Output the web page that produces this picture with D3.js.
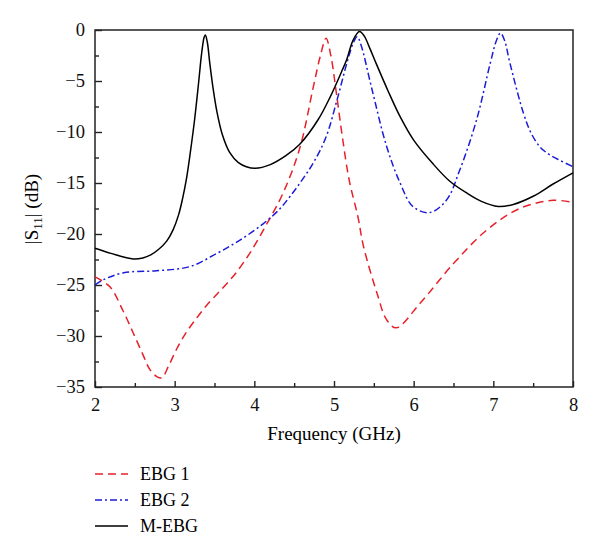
<!DOCTYPE html>
<html lang="en">
<head>
<meta charset="UTF-8">
<script src="https://cdn.jsdelivr.net/npm/d3@7"></script>
<title>S11</title>
<style>
    body { margin: 0; background: white; }
    svg { display: block; font-family: "Liberation Serif", "DejaVu Serif", serif; }
    .axis path, .axis line { stroke: #222; stroke-width: 1.4px; }
</style>
</head>
<body>
<script>
// EBG 1 (red dashed)
const ebg1_f  = [2.0, 2.19, 2.35, 2.48, 2.6, 2.69, 2.78, 2.84, 2.92, 3.03, 3.15, 3.28, 3.4, 3.53, 3.65, 3.78, 3.95, 4.15, 4.36, 4.57, 4.74, 4.83, 4.90, 4.96, 5.03, 5.1, 5.19, 5.3, 5.37, 5.54, 5.66, 5.78, 6.08, 6.5, 6.92, 7.33, 7.75, 8.0];
const ebg1_db = [-24.2, -25.2, -27.5, -29.7, -31.8, -33.3, -34.0, -34.1, -33.0, -31.2, -29.6, -28.2, -27.0, -25.9, -24.9, -23.7, -21.8, -19.1, -16.0, -11.6, -5.6, -2.5, -0.8, -2.5, -6.2, -10.2, -14.7, -18.3, -21.2, -25.8, -28.4, -29.2, -26.8, -22.9, -19.6, -17.5, -16.7, -16.9];

// EBG 2 (blue dash-dot)
const ebg2_f  = [2.0, 2.1, 2.36, 2.77, 3.19, 3.53, 3.82, 4.11, 4.3, 4.45, 4.6, 4.75, 4.9, 5.04, 5.17, 5.24, 5.29, 5.34, 5.47, 5.66, 5.83, 5.99, 6.2, 6.41, 6.58, 6.79, 6.96, 7.04, 7.09, 7.14, 7.21, 7.38, 7.48, 7.59, 7.7, 7.84, 8.0];
const ebg2_db = [-25.0, -24.5, -23.8, -23.6, -23.2, -21.9, -20.6, -19.0, -17.7, -16.3, -14.7, -12.9, -10.5, -6.8, -3.0, -1.3, -0.65, -1.5, -5.6, -11.4, -15.0, -17.3, -17.9, -16.7, -13.7, -8.8, -3.3, -1.0, -0.3, -1.0, -3.3, -8.2, -10.2, -11.5, -12.2, -12.8, -13.4];

// M-EBG (black solid)
const mebg_f  = [2.0, 2.2, 2.48, 2.6, 2.7, 2.8, 2.9, 2.98, 3.05, 3.1, 3.15, 3.2, 3.25, 3.3, 3.34, 3.37, 3.385, 3.41, 3.44, 3.48, 3.53, 3.6, 3.69, 3.8, 3.9, 4.01, 4.2, 4.4, 4.57, 4.8, 4.95, 5.1, 5.16, 5.24, 5.32, 5.38, 5.45, 5.53, 5.68, 5.83, 6.0, 6.24, 6.45, 6.67, 6.85, 7.06, 7.25, 7.5, 7.75, 8.0];
const mebg_db = [-21.4, -21.9, -22.45, -22.35, -22.05, -21.5, -20.7, -19.6, -18.1, -16.5, -14.5, -11.8, -8.8, -5.2, -2.2, -0.7, -0.5, -1.2, -3.2, -5.6, -8.0, -10.3, -12.0, -13.0, -13.4, -13.56, -13.2, -12.3, -11.2, -8.8, -6.6, -4.0, -2.9, -1.0, -0.15, -0.6, -1.8, -3.3, -6.0, -8.5, -10.8, -13.1, -14.8, -16.0, -16.8, -17.3, -17.1, -16.3, -15.1, -14.0];

const x_ticks = [2, 3, 4, 5, 6, 7, 8];
const y_ticks = [0, -5, -10, -15, -20, -25, -30, -35];
const series_names = ["EBG 1", "EBG 2", "M-EBG"];

const W = 600, H = 557;
const FONT = "'Liberation Serif', 'DejaVu Serif', serif";
const svg = d3.select("body").append("svg").attr("width", W).attr("height", H);

const x = d3.scaleLinear().domain([2, 8]).range([95, 573]);
const y = d3.scaleLinear().domain([-35, 0]).range([387, 30]);

//minor ticks
const x_minor = d3.range(2.5, 8, 1);
const y_minor = d3.range(-32.5, 0, 5);

function styleAxis(g) {
    g.select(".domain").remove();
    g.attr("font-family", FONT).attr("font-size", 18.5);
    g.selectAll("text").attr("fill", "#111");
}

svg.append("g").attr("class", "axis")
    .attr("transform", "translate(0,387)")
    .call(d3.axisBottom(x).tickValues(x_minor).tickSize(-4).tickFormat(""))
    .call(styleAxis);
svg.append("g").attr("class", "axis")
    .attr("transform", "translate(95,0)")
    .call(d3.axisLeft(y).tickValues(y_minor).tickSize(-4).tickFormat(""))
    .call(styleAxis);

svg.append("g").attr("class", "axis")
    .attr("transform", "translate(0,387)")
    .call(d3.axisBottom(x).tickValues(x_ticks).tickSize(-6).tickPadding(11).tickSizeOuter(0).tickFormat(d3.format("d")))
    .call(styleAxis);
svg.append("g").attr("class", "axis")
    .attr("transform", "translate(95,0)")
    .call(d3.axisLeft(y).tickValues(y_ticks).tickSize(-7).tickPadding(10).tickSizeOuter(0).tickFormat(d3.format("d")))
    .call(styleAxis);

// frame
svg.append("rect")
    .attr("x", x(2)).attr("y", y(0))
    .attr("width", x(8) - x(2)).attr("height", y(-35) - y(0))
    .attr("fill", "none").attr("stroke", "#222").attr("stroke-width", 1.5);

const line = d3.line()
    .x(d => x(d[0]))
    .y(d => y(d[1]))
    .curve(d3.curveCatmullRom.alpha(0.5));

const styles = [
    {color: "#e8202a", dash: "8,5"},
    {color: "#1c1cd8", dash: "7,3,2,3"},
    {color: "#000000", dash: null}
];
const all_data = [
    d3.zip(ebg1_f, ebg1_db),
    d3.zip(ebg2_f, ebg2_db),
    d3.zip(mebg_f, mebg_db)
];

svg.append("g")
    .selectAll("path")
    .data(all_data)
    .enter()
    .append("path")
    .attr("d", d => line(d))
    .attr("fill", "none")
    .attr("stroke", (d, i) => styles[i].color)
    .attr("stroke-width", 1.5)
    .attr("stroke-dasharray", (d, i) => styles[i].dash);

// axis labels
svg.append("text")
    .attr("x", x(5)).attr("y", 440)
    .attr("text-anchor", "middle")
    .attr("font-family", FONT)
    .style("font-size", "19px")
    .text("Frequency (GHz)");

const ylab = svg.append("text")
    .attr("transform", "translate(38,209) rotate(-90)")
    .attr("text-anchor", "middle")
    .attr("font-family", FONT)
    .style("font-size", "19px");
ylab.append("tspan").text("|S");
ylab.append("tspan").attr("dy", 4).style("font-size", "13px").text("11");
ylab.append("tspan").attr("dy", -4).text("| (dB)");

// legend
const legend = svg.append("g").attr("font-family", FONT);
series_names.forEach((name, i) => {
    const ly = 474 + i * 26;
    legend.append("line")
        .attr("x1", 95).attr("x2", 128)
        .attr("y1", ly).attr("y2", ly)
        .attr("stroke", styles[i].color)
        .attr("stroke-width", 1.5)
        .attr("stroke-dasharray", styles[i].dash);
    legend.append("text")
        .attr("x", 140).attr("y", ly)
        .attr("dy", "0.35em")
        .style("font-size", "18px")
        .text(name);
});
</script>
</body>
</html>
